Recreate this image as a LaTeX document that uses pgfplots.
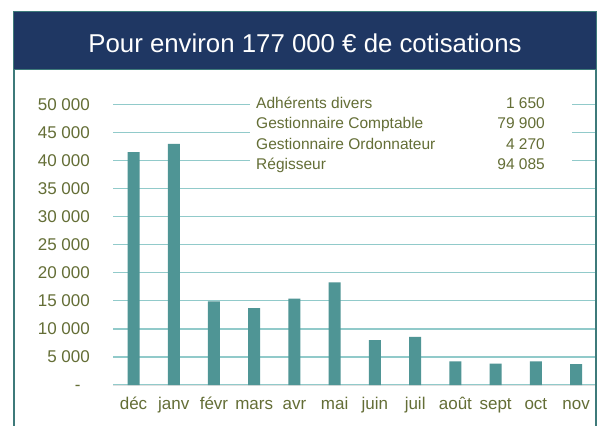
\documentclass[border=0pt]{standalone}
\usepackage{pgfplots}
\pgfplotsset{compat=1.18}
\usepackage{fontspec}
\setmainfont{Liberation Sans}
\definecolor{navy}{RGB}{31,55,99}
\definecolor{barteal}{RGB}{79,149,149}
\definecolor{gridteal}{RGB}{145,202,202}
\definecolor{bordteal}{RGB}{62,122,122}
\definecolor{olive}{RGB}{100,110,54}
\begin{document}
\begin{tikzpicture}[x=1pt,y=1pt]
\useasboundingbox (0,0) rectangle (601,426);
\fill[white] (0,0) rectangle (601,426);
\begin{axis}[
  at={(113.4pt,41pt)}, anchor=south west,
  scale only axis, width=482.8pt, height=280.5pt,
  xmin=-0.5, xmax=11.5, ymin=0, ymax=50000,
  ybar, bar width=12pt,
  axis lines*=left,
  y axis line style={draw=none},
  x axis line style={draw=black!12, line width=1pt},
  major tick length=0pt,
  ytick={0,5000,10000,15000,20000,25000,30000,35000,40000,45000,50000},
  yticklabels={-\phantom{0},5 000,10 000,15 000,20 000,25 000,30 000,35 000,40 000,45 000,50 000},
  scaled y ticks=false,
  xtick=data,
  xticklabels={déc,janv,févr,mars,avr,mai,juin,juil,août,sept,oct,nov},
  ymajorgrids,
  grid style={color=gridteal, line width=1.2pt},
  tick label style={text=olive, font=\fontsize{17}{19}\selectfont},
  yticklabel style={xshift=-20pt},
  xticklabel style={text height=12pt, text depth=4pt, yshift=-9pt},
  clip=false,
]
\addplot[fill=barteal, draw=none] coordinates {
  (0,41500) (1,43000) (2,14900) (3,13700) (4,15400) (5,18300)
  (6,8000) (7,8600) (8,4200) (9,3800) (10,4200) (11,3700)
};
\end{axis}
% title banner
\fill[navy] (13,356) rectangle (596.5,414);
\draw[bordteal, line width=1pt] (13,356) rectangle (596.5,414);
\node[text=white, font=\fontsize{25.8}{29}\selectfont] at (305,383) {Pour environ 177 000 € de cotisations};
% panel borders
\draw[bordteal, line width=2pt] (14,356) -- (14,0);
\draw[bordteal, line width=2pt] (596,356) -- (596,0);
% info table
\fill[white] (250,251) rectangle (572,333);
\begin{scope}[every node/.style={text=olive, font=\fontsize{15.5}{17}\selectfont, inner sep=0pt}]
\node[anchor=base west] at (256,317.5) {Adhérents divers};
\node[anchor=base west] at (256,297) {Gestionnaire Comptable};
\node[anchor=base west] at (256,276.5) {Gestionnaire Ordonnateur};
\node[anchor=base west] at (256,256) {Régisseur};
\node[anchor=base east] at (545,317.5) {1 650};
\node[anchor=base east] at (545,297) {79 900};
\node[anchor=base east] at (545,276.5) {4 270};
\node[anchor=base east] at (545,256) {94 085};
\end{scope}
\end{tikzpicture}
\end{document}
